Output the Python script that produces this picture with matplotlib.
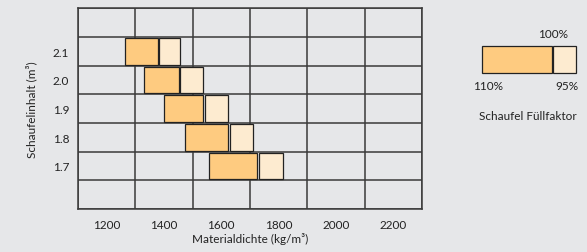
import matplotlib
matplotlib.use('Agg')
import matplotlib.pyplot as plt
from matplotlib.patches import Rectangle

# bucket capacity (m3) and material density (kg/m3) at each fill factor
capacity = [2.1, 2.0, 1.9, 1.8, 1.7]
dens_110 = [1265, 1330, 1400, 1475, 1557]
dens_100 = [1380, 1452, 1538, 1625, 1726]
dens_95 = [1455, 1538, 1625, 1712, 1814]
x_ticks = [1200, 1400, 1600, 1800, 2000, 2200]

BG = '#e6e7e9'
DARK = '#fecb80'
LIGHT = '#fdebd0'
LINE = '#3a3a3a'
FONT = 'Lato'
FS = 8.5

fig = plt.figure(figsize=(5.87, 2.53), dpi=100)
fig.patch.set_facecolor(BG)
ax = fig.add_axes([77.7 / 587, 1 - 210 / 253, (422.3 - 77.7) / 587, (210 - 9.3) / 253])
ax.set_facecolor(BG)
ax.set_xlim(1100, 2300)
ax.set_ylim(1.55, 2.25)

# grid
ax.set_xticks(range(1100, 2301, 100), minor=True)
ax.set_yticks([1.55 + 0.1 * i for i in range(8)], minor=True)
ax.grid(which='minor', color=LINE, lw=1.1, zorder=1)
ax.set_xticks(x_ticks)
ax.set_xticklabels([str(v) for v in x_ticks], fontsize=FS, family=FONT, color='#222')
ax.set_yticks(capacity)
ax.set_yticklabels(['%.1f' % v for v in capacity], fontsize=FS, family=FONT, color='#222')
ax.tick_params(which='both', length=0)
ax.tick_params(axis='x', pad=7)
ax.tick_params(axis='y', pad=6)
for s in ax.spines.values():
    s.set_color(LINE)
    s.set_linewidth(1.1)

h = 0.094
gap = 4.5
ax.barh(capacity, [b - a for a, b in zip(dens_110, dens_100)], left=dens_110, height=h,
        color=DARK, edgecolor='#222', lw=0.9, zorder=3)
ax.barh(capacity, [c - b - gap for b, c in zip(dens_100, dens_95)],
        left=[b + gap for b in dens_100], height=h,
        color=LIGHT, edgecolor='#222', lw=0.9, zorder=3)

ax.set_xlabel('Materialdichte (kg/m³)', fontsize=FS, family=FONT, color='#222', labelpad=2)
ax.set_ylabel('Schaufelinhalt (m³)', fontsize=FS, family=FONT, color='#222', labelpad=11)

# legend box on the right
W, H = 587, 253
def fx(px):
    return px / W
def fy(py):
    return 1 - py / H
fig.patches.append(Rectangle((fx(482.3), fy(74.3)), fx(551.7) - fx(482.3), fy(46.7) - fy(74.3),
                             transform=fig.transFigure, fc=DARK, ec='#222', lw=0.9))
fig.patches.append(Rectangle((fx(553.0), fy(74.3)), fx(576) - fx(553.0), fy(46.7) - fy(74.3),
                             transform=fig.transFigure, fc=LIGHT, ec='#222', lw=0.9))
fig.text(fx(553), fy(35), '100%', ha='center', va='center', fontsize=FS, family=FONT, color='#222')
fig.text(fx(488), fy(87), '110%', ha='center', va='center', fontsize=FS, family=FONT, color='#222')
fig.text(fx(578), fy(87), '95%', ha='right', va='center', fontsize=FS, family=FONT, color='#222')
fig.text(fx(528), fy(117), 'Schaufel Füllfaktor', ha='center', va='center', fontsize=FS,
         family=FONT, color='#222')

fig.savefig('out.png', dpi=100, facecolor=BG)
